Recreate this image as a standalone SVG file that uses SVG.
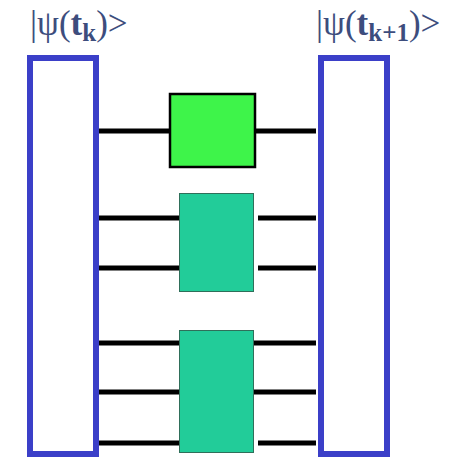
<svg xmlns="http://www.w3.org/2000/svg" width="463" height="462" viewBox="0 0 463 462">
<style>
.frame{fill:#ffffff;stroke:#3b3fc8;stroke-width:6}
.wire{stroke:#000000;stroke-width:5;fill:none}
.gate1{fill:#3ef44a;stroke:#000000;stroke-width:2.5}
.gate{fill:#22cc99;stroke:#2f6f5a;stroke-width:1}
.lbl{font-family:"Liberation Serif","Times New Roman",serif;font-size:35px;fill:#3d4d7d}
.b{font-weight:bold}
</style>
<rect width="463" height="462" fill="#ffffff"/>
<g id="connectors">
<line class="wire" x1="96" y1="131" x2="170" y2="131"/>
<line class="wire" x1="255" y1="131" x2="316" y2="131"/>
<line class="wire" x1="96" y1="218" x2="180" y2="218"/>
<line class="wire" x1="258" y1="218" x2="316" y2="218"/>
<line class="wire" x1="96" y1="268" x2="180" y2="268"/>
<line class="wire" x1="258" y1="268" x2="316" y2="268"/>
<line class="wire" x1="96" y1="343" x2="180" y2="343"/>
<line class="wire" x1="254" y1="343" x2="316" y2="343"/>
<line class="wire" x1="96" y1="392" x2="180" y2="392"/>
<line class="wire" x1="254" y1="392" x2="316" y2="392"/>
<line class="wire" x1="96" y1="443" x2="180" y2="443"/>
<line class="wire" x1="258" y1="443" x2="316" y2="443"/>
</g>
<g id="state_k">
<rect class="frame" x="30" y="58" width="66" height="396"/>
<text class="lbl" x="30" y="35">|ψ(<tspan class="b">t</tspan><tspan class="b" font-size="25" dy="6">k</tspan><tspan dy="-6">)&gt;</tspan></text>
</g>
<g id="state_k1">
<rect class="frame" x="321" y="58" width="66" height="396"/>
<text class="lbl" x="316" y="35">|ψ(<tspan class="b">t</tspan><tspan class="b" font-size="25" dy="6">k+1</tspan><tspan dy="-6">)&gt;</tspan></text>
</g>
<g id="gate1">
<rect class="gate1" x="170" y="94" width="85" height="73"/>
</g>
<g id="gate2">
<rect class="gate" x="179.5" y="193.5" width="74" height="98"/>
</g>
<g id="gate3">
<rect class="gate" x="179.5" y="330.5" width="74" height="122"/>
</g>
</svg>
